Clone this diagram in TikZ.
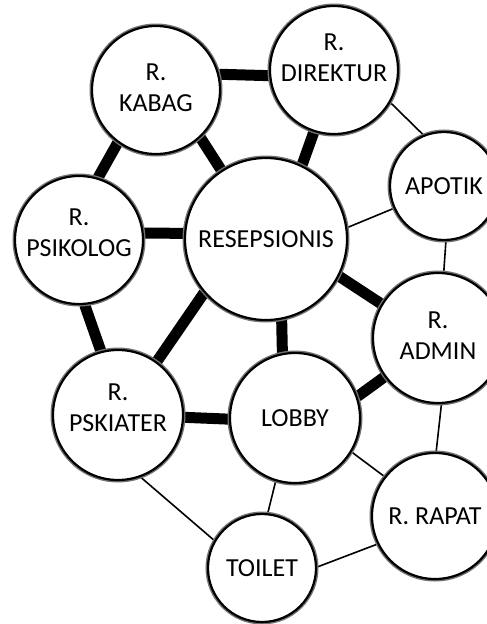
\documentclass[tikz,border=0pt]{standalone}
\usepackage{fontspec}
\setmainfont{Carlito}
\usepackage{tikz}
\usetikzlibrary{backgrounds}

\tikzset{
  room/.style={circle, draw=black, line width=2.2pt, fill=white,
    inner sep=0pt, align=center,
    font=\fontsize{26}{31}\selectfont,
    preaction={draw=black!55, line width=5pt}},
  heavy/.style={line width=11pt},
  light/.style={line width=1.6pt}
}

\begin{document}
\begin{tikzpicture}[x=1pt, y=-1pt]
  \clip (0,0) rectangle (487,624);

  % Rooms
  \node[room, minimum size=128pt, text depth=4pt]  (kabag)    at (156,90)  {R.\\KABAG};
  \node[room, minimum size=128pt, text depth=24pt] (direktur) at (334,70)  {R.\\DIREKTUR};
  \node[room, minimum size=108pt] (apotik)   at (444,186) {APOTIK};
  \node[room, minimum size=162pt] (resep)    at (266,239) {RESEPSIONIS};
  \node[room, minimum size=128pt, text depth=14pt] (psikolog) at (79,240)  {R.\\PSIKOLOG};
  \node[room, minimum size=130pt, text depth=4pt]  (admin)    at (438,338) {R.\\ADMIN};
  \node[room, minimum size=130pt, text depth=14pt] (pskiater) at (118,415) {R.\\PSKIATER};
  \node[room, minimum size=130pt] (lobby)    at (295,418) {LOBBY};
  \node[room, minimum size=126pt] (rapat)    at (435,516) {R. RAPAT};
  \node[room, minimum size=108pt] (toilet)   at (262,568) {TOILET};

  \begin{scope}[on background layer]
    % Strong links
    \foreach \a/\b in {kabag.14/direktur.185, kabag.234/psikolog.73,
        kabag.313/resep.123, direktur.252/resep.64, psikolog.6/resep.176,
        resep.333/admin.149, psikolog.275/pskiater.105, resep.221/pskiater.54,
        resep.281/lobby.101, pskiater.358/lobby.181, lobby.19/admin.216}
      \draw[heavy] (\a) -- (\b);

    % Weak links
    \foreach \a/\b in {direktur.330/apotik.112, apotik.204/resep.8,
        apotik.272/admin.85, admin.273/rapat.89, lobby.329/rapat.142,
        lobby.253/toilet.84, pskiater.290/toilet.150, toilet.1/rapat.206}
      \draw[light] (\a) -- (\b);
  \end{scope}
\end{tikzpicture}
\end{document}
